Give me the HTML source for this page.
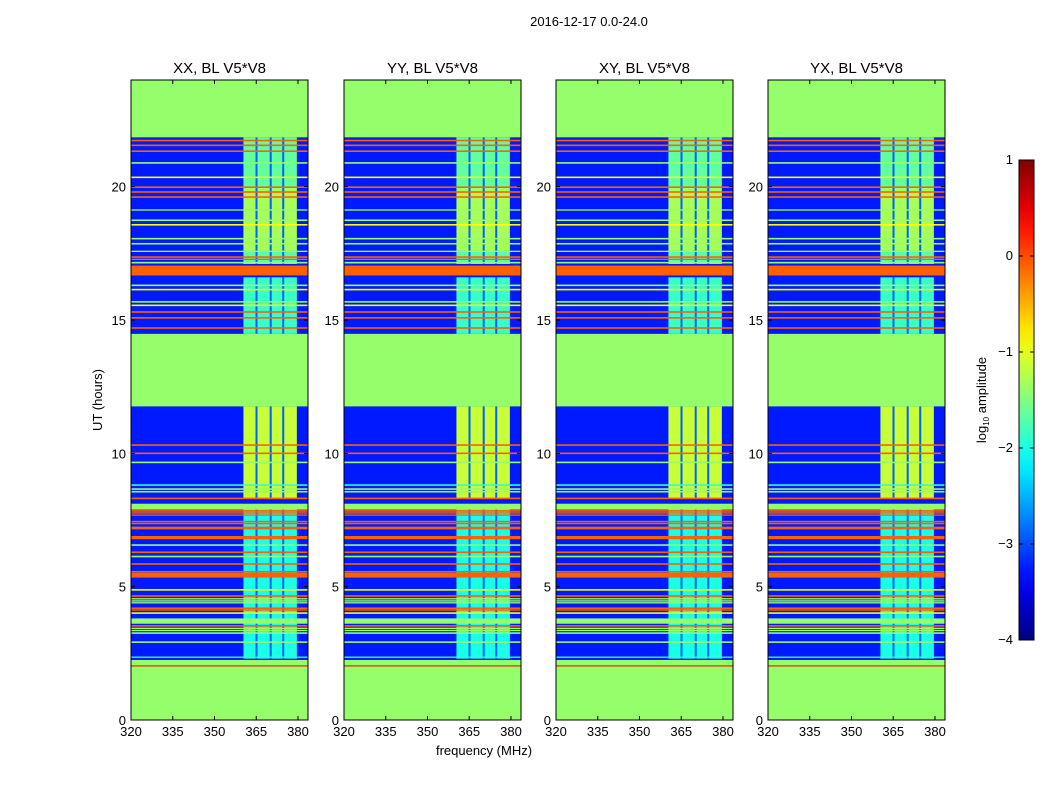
<!DOCTYPE html>
<html><head><meta charset="utf-8"><style>
body{margin:0;background:#fff;}
svg text{font-family:"Liberation Sans",sans-serif;fill:#000;}
</style></head><body>
<svg id="fig" width="1050" height="800" xmlns="http://www.w3.org/2000/svg">
<rect width="1050" height="800" fill="#fff"/>
<text x="589" y="26" font-size="13" text-anchor="middle">2016-12-17 0.0-24.0</text>
<text transform="translate(102,400) rotate(-90)" font-size="13" text-anchor="middle">UT (hours)</text>
<text x="484" y="755" font-size="13" text-anchor="middle">frequency (MHz)</text>
<g id="panels"></g>
<g id="cbar"></g>
</svg>
<script>
// data
const panelTitles = ["XX, BL V5*V8","YY, BL V5*V8","XY, BL V5*V8","YX, BL V5*V8"];
const xTicks = [320,335,350,365,380];
const yTicks = [0,5,10,15,20];
const cbarTicks = [1,0,-1,-2,-3,-4];
const backgroundValue = -3.25;
const gapStart = [0, 11.76, 21.85];
const gapEnd = [2.0, 14.48, 24];
const gapValue = -1.4;
// horizontal RFI lines: start hour, end hour, value
const lineStart = [21.70,21.52,21.30,20.86,20.32,19.95,19.77,19.58,19.1,18.71,18.54,18.02,17.83,17.55,17.33,17.25,17.12,16.67,16.27,16.11,15.65,15.52,15.27,15.05,14.67,
 10.28,9.97,9.63,8.78,8.63,8.53,8.28,7.89,7.81,7.74,7.66,7.41,7.34,7.15,6.78,6.53,6.26,6.10,5.82,5.53,5.34,4.85,4.62,4.52,4.44,4.37,4.16,4.10,3.98,3.61,3.50,3.41,3.33,3.23,2.89,2.33,2.06,2.0];
const lineEnd   = [21.76,21.58,21.36,20.92,20.38,20.01,19.83,19.64,19.15,18.77,18.60,18.08,17.89,17.60,17.39,17.30,17.18,17.04,16.33,16.17,15.71,15.58,15.33,15.11,14.73,
 10.34,10.03,9.69,8.84,8.69,8.59,8.34,8.11,7.87,7.79,7.71,7.47,7.39,7.25,6.90,6.59,6.32,6.16,5.88,5.59,5.52,4.91,4.68,4.57,4.49,4.42,4.22,4.15,4.04,3.81,3.56,3.46,3.38,3.29,2.95,2.38,2.25,2.06];
const lineValue = [-0.1,-0.1,-0.1,-1.4,-0.9,-0.1,-0.1,-0.1,-1.4,-1.4,-0.9,-1.4,-1.4,-1.4,-0.1,-0.1,-1.4,-0.1,-1.4,-0.9,-1.4,-0.9,-0.1,-0.1,-0.1,
 -0.1,-0.1,-1.4,-1.9,-1.4,-1.4,-0.1,-1.4,-0.1,-0.1,-0.1,-0.1,-0.1,-0.1,-0.1,-1.4,-0.1,-1.4,-0.1,-0.1,-0.1,-0.9,-0.1,-1.4,-1.4,-1.4,-0.1,-0.1,-0.9,-1.4,-0.1,-1.4,-1.4,-1.4,-1.4,-1.9,-1.4,-0.1];
// broadband band region
const bandFreqStart = 360.4, bandFreqEnd = 379.6;
const bandStart = [2.3, 8.3, 14.48, 17.1, 17.6, 20.0];
const bandEnd   = [8.0, 11.76, 16.6, 17.6, 20.0, 21.85];
const bandValue = [-2.0, -1.15, -1.85, -1.7, -1.3, -1.65];
const bandDarkFreq = [365.1, 370.2, 374.7];
const bandDarkValue = -2.9;

function jet(v){const t=Math.max(0,Math.min(1,(v+4)/5));
 const c=x=>Math.round(255*Math.max(0,Math.min(1,x)));
 return `rgb(${c(1.5-Math.abs(4*t-3))},${c(1.5-Math.abs(4*t-2))},${c(1.5-Math.abs(4*t-1))})`;}
const NS="http://www.w3.org/2000/svg";
function mk(tag,attrs,parent){const e=document.createElementNS(NS,tag);for(const k in attrs)e.setAttribute(k,attrs[k]);parent.appendChild(e);return e;}
const panelX=[131,344,556,768], pw=177, pTop=80, pBottom=720;
const fMin=320, fMax=320+177/2.783;
const gPanels=document.getElementById('panels');
panelX.forEach((px,pi)=>{
 const sx=f=>px+(f-fMin)/(fMax-fMin)*pw;
 const sy=h=>pBottom-(h/24)*(pBottom-pTop);
 const pg=mk('g',{},gPanels);
 
 
 const bg=mk('rect',{x:px,y:pTop,width:pw,height:pBottom-pTop,fill:jet(backgroundValue)},pg);
 
 
 bandStart.forEach((s,i)=>{
  const r=mk('rect',{x:sx(bandFreqStart),y:sy(bandEnd[i]),width:sx(bandFreqEnd)-sx(bandFreqStart),height:sy(s)-sy(bandEnd[i]),fill:jet(bandValue[i])},pg);
  
  
  bandDarkFreq.forEach(f=>{
   const d=mk('rect',{x:sx(f)-1,y:sy(bandEnd[i]),width:2,height:sy(s)-sy(bandEnd[i]),fill:jet(bandDarkValue)},pg);
   
   
  });
 });
 lineStart.forEach((s,i)=>{
  const r=mk('rect',{x:px,y:sy(lineEnd[i]),width:pw,height:Math.max(1.2,sy(s)-sy(lineEnd[i])),fill:jet(lineValue[i])},pg);
  
  
 });
 gapStart.forEach((s,i)=>{
  const r=mk('rect',{x:px,y:sy(gapEnd[i]),width:pw,height:sy(s)-sy(gapEnd[i]),fill:jet(gapValue)},pg);
  
  
 });
 const fr=mk('rect',{x:px,y:pTop,width:pw,height:pBottom-pTop,fill:'none',stroke:'#000','stroke-width':1},pg);
 
 
 const t=mk('text',{x:px+pw/2,y:pTop-7,'font-size':15,'text-anchor':'middle'},pg);t.textContent=panelTitles[pi];
 
 
 xTicks.forEach(f=>{const x=sx(f);
  mk('line',{x1:x,x2:x,y1:pBottom,y2:pBottom-4,stroke:'#000'},pg);
  mk('line',{x1:x,x2:x,y1:pTop,y2:pTop+4,stroke:'#000'},pg);
  const l=mk('text',{x:x,y:pBottom+16,'font-size':13,'text-anchor':'middle'},pg);l.textContent=f;
  
  });
 yTicks.forEach(h=>{const y=sy(h);
  mk('line',{x1:px,x2:px+4,y1:y,y2:y,stroke:'#000'},pg);
  mk('line',{x1:px+pw,x2:px+pw-4,y1:y,y2:y,stroke:'#000'},pg);
  const l=mk('text',{x:px-5,y:y+5,'font-size':13,'text-anchor':'end'},pg);l.textContent=h;
  
  });
});
// colorbar
const cb=document.getElementById('cbar');
const defs=mk('defs',{},cb);
const grad=mk('linearGradient',{id:'jetg',x1:0,y1:1,x2:0,y2:0},defs);
for(let i=0;i<=20;i++){mk('stop',{offset:i/20,'stop-color':jet(-4+5*i/20)},grad);}
const cbX=1019,cbW=15,cbTop=160,cbBottom=640;
mk('rect',{x:cbX,y:cbTop,width:cbW,height:cbBottom-cbTop,fill:'url(#jetg)',stroke:'#000'},cb);
cbarTicks.forEach(v=>{const y=cbTop+(1-v)/5*(cbBottom-cbTop);
 mk('line',{x1:cbX,x2:cbX+4,y1:y,y2:y,stroke:'#000'},cb);
 mk('line',{x1:cbX+cbW,x2:cbX+cbW-4,y1:y,y2:y,stroke:'#000'},cb);
 const l=mk('text',{x:cbX-6,y:y+4,'font-size':13,'text-anchor':'end'},cb);l.textContent=v<0?'\u2212'+(-v):v;
 
 });
const cbLabel=mk('text',{transform:'translate(986,400) rotate(-90)','font-size':13,'text-anchor':'middle'},cb);
cbLabel.innerHTML='log<tspan font-size="8" dy="3">10</tspan><tspan dy="-3"> amplitude</tspan>';


</script>
</body></html>
